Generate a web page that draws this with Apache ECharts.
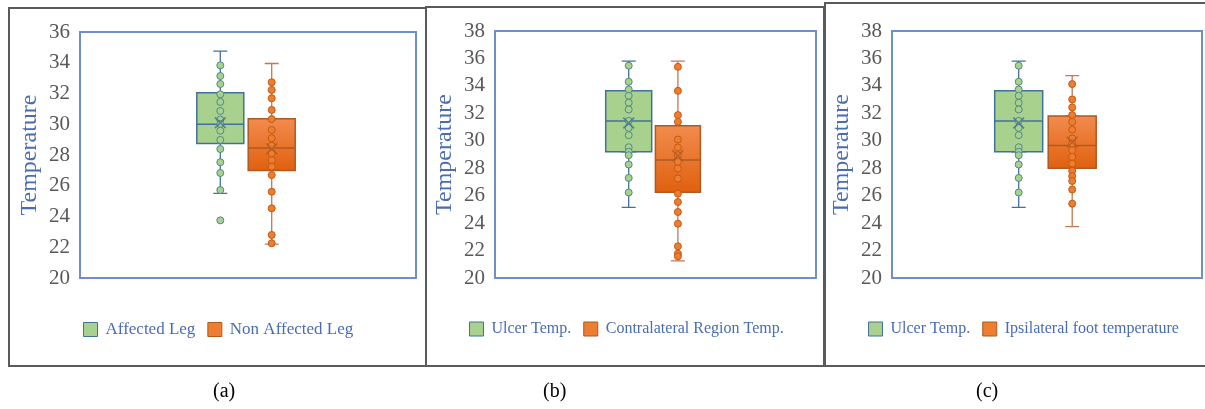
<!DOCTYPE html>
<html>
<head>
<meta charset="utf-8">
<script src="https://cdn.jsdelivr.net/npm/echarts@6/dist/echarts.min.js"></script>
<style>
html,body{margin:0;padding:0;background:#fff;}
#chart{width:1205px;height:409px;}
</style>
</head>
<body>
<div id="chart"></div>
<script>
// ---------- DATA ----------
const yTicksA = [20, 36];           // panel (a) y range
const yTicksBC = [20, 38];          // panels (b),(c) y range
const tickStep = 2;

const namesA = ['Affected Leg', 'Non Affected Leg'];
const namesB = ['Ulcer Temp.', 'Contralateral Region Temp.'];
const namesC = ['Ulcer Temp.', 'Ipsilateral foot temperature'];
const captions = ['(a)', '(b)', '(c)'];

// box values: [min whisker, Q1, median, Q3, max whisker]
const aGreenBox  = [25.5, 28.75, 30.0, 32.05, 34.75];
const aOrangeBox = [22.2, 27.0, 28.45, 30.35, 33.95];
const bGreenBox  = [25.15, 29.2, 31.45, 33.65, 35.8];
const bOrangeBox = [21.25, 26.25, 28.6, 31.1, 35.8];
const cGreenBox  = [25.15, 29.2, 31.45, 33.65, 35.8];
const cOrangeBox = [23.75, 28.0, 29.65, 31.8, 34.75];

// means (x markers)
const aMeans = [30.1, 28.4];
const bMeans = [31.3, 28.9];
const cMeans = [31.3, 29.9];

// inner points
const aGreenPts  = [33.83, 33.14, 32.62, 31.95, 31.45, 30.86, 30.3, 30.02, 29.58, 28.98, 28.39, 27.53, 26.83, 25.72, 23.75];
const aOrangePts = [32.73, 32.23, 31.69, 30.93, 30.34, 29.63, 29.09, 28.6, 28.11, 27.67, 27.24, 26.70, 25.61, 24.53, 22.80, 22.26];
const bGreenPts  = [35.47, 34.30, 33.74, 33.28, 32.77, 32.28, 31.45, 30.94, 30.41, 29.53, 29.2, 28.95, 28.27, 27.29, 26.23];
const bOrangePts = [35.39, 33.64, 31.87, 31.38, 30.09, 29.51, 28.95, 28.46, 27.98, 27.25, 26.15, 25.54, 24.81, 23.96, 22.31, 21.77, 21.58];
const cGreenPts  = [35.47, 34.30, 33.74, 33.28, 32.77, 32.28, 31.45, 30.94, 30.41, 29.53, 29.2, 28.95, 28.27, 27.29, 26.23];
const cOrangePts = [34.13, 33.01, 32.43, 31.87, 31.38, 30.82, 30.17, 29.80, 29.31, 28.82, 28.34, 27.80, 27.42, 27.07, 26.45, 25.42];

// ---------- STYLE ----------
const FONT = '"Liberation Serif", "Times New Roman", serif';
const green = {
  fill: '#a9d18e', border: '#41719c', whisker: '#41719c',
  dotFill: '#a9d18e', dotBorder: '#4f8a8b', mean: '#46708e',
  legFill: '#a9d18e', legBorder: '#41719c'
};
const orange = {
  fill: new echarts.graphic.LinearGradient(0, 0, 0, 1, [
    {offset: 0, color: '#f28c4e'}, {offset: 1, color: '#e0600e'}]),
  border: '#ae5a21', whisker: '#c07a55',
  dotFill: '#ed7d31', dotBorder: '#c55a11', mean: '#b05a25',
  legFill: '#ed7d31', legBorder: '#ae5a21'
};
const xPath = 'path://M0,1 L1,0 L5,4 L9,0 L10,1 L6,5 L10,9 L9,10 L5,6 L1,10 L0,9 L4,5 Z';

// panel geometry
const panels = [
  {main: {left: 80, top: 32, width: 336, height: 246}, range: yTicksA,
   boxes: [{c: 220.3, w: 47}, {c: 271.7, w: 47}], names: namesA,
   boxData: [aGreenBox, aOrangeBox], pts: [aGreenPts, aOrangePts], means: aMeans,
   legendLeft: 83, legendFont: 17, caption: 227},
  {main: {left: 495, top: 31, width: 321, height: 247}, range: yTicksBC,
   boxes: [{c: 628.7, w: 46}, {c: 677.9, w: 45}], names: namesB,
   boxData: [bGreenBox, bOrangeBox], pts: [bGreenPts, bOrangePts], means: bMeans,
   legendLeft: 469, legendFont: 16, caption: 557},
  {main: {left: 892, top: 31, width: 310, height: 247}, range: yTicksBC,
   boxes: [{c: 1018.7, w: 48}, {c: 1072.2, w: 48}], names: namesC,
   boxData: [cGreenBox, cOrangeBox], pts: [cGreenPts, cOrangePts], means: cMeans,
   legendLeft: 868, legendFont: 16, caption: 990}
];

const grid = [], xAxis = [], yAxis = [], series = [], legend = [], graphic = [];

// main grids
panels.forEach((p, i) => {
  grid.push(Object.assign({show: true, borderColor: '#6f8fca', borderWidth: 2, backgroundColor: '#fff', z: 0}, p.main));
  xAxis.push({type: 'category', gridIndex: i, data: ['x'], show: false});
  yAxis.push({
    type: 'value', gridIndex: i, min: p.range[0], max: p.range[1], interval: tickStep,
    name: 'Temperature', nameLocation: 'middle', nameRotate: 90, nameGap: 38,
    nameTextStyle: {fontFamily: FONT, fontSize: 24, color: '#4a6cb3'},
    axisLine: {show: false}, axisTick: {show: false}, splitLine: {show: false},
    axisLabel: {fontFamily: FONT, fontSize: 21, color: '#595959', margin: 10}
  });
});

// box grids
let gi = panels.length;      // grid index
let xi = panels.length;      // xAxis index
panels.forEach((p, pi) => {
  const H = p.main;
  [green, orange].forEach((col, si) => {
    const b = p.boxes[si];
    const gw = 51;
    grid.push({left: b.c - gw / 2, top: H.top, width: gw, height: H.height, show: false});
    // two independent category axes so boxes are not placed side by side
    const xWhisk = xi, xBody = xi + 1;
    xAxis.push({type: 'category', gridIndex: gi, data: [p.names[si]], show: false});
    xAxis.push({type: 'category', gridIndex: gi, data: [p.names[si]], show: false});
    xi += 2;
    yAxis.push({type: 'value', gridIndex: gi, min: p.range[0], max: p.range[1], interval: tickStep, show: false});
    const box = p.boxData[si];
    // whiskers (narrow caps)
    series.push({
      type: 'boxplot', name: '_w' + pi + si, xAxisIndex: xWhisk, yAxisIndex: gi,
      boxWidth: [14, 14], z: 2, silent: true,
      itemStyle: {color: 'rgba(0,0,0,0)', borderColor: col.whisker, borderWidth: 1.3},
      data: [box.slice()]
    });
    // box body
    series.push({
      type: 'boxplot', name: p.names[si], xAxisIndex: xBody, yAxisIndex: gi,
      boxWidth: [b.w, b.w], z: 3, silent: true,
      itemStyle: {color: col.fill, borderColor: col.border, borderWidth: 1.5},
      data: [[box[1], box[1], box[2], box[3], box[3]]]
    });
    // inner points
    series.push({
      type: 'scatter', name: '_p' + pi + si, xAxisIndex: xBody, yAxisIndex: gi, z: 4, silent: true,
      symbol: 'circle', symbolSize: 7,
      itemStyle: {color: col.dotFill, borderColor: col.dotBorder, borderWidth: 1, opacity: 1},
      data: p.pts[si].map(v => [0, v])
    });
    // mean marker
    series.push({
      type: 'scatter', name: '_m' + pi + si, xAxisIndex: xBody, yAxisIndex: gi, z: 5, silent: true,
      symbol: xPath, symbolSize: 12,
      itemStyle: {color: col.mean},
      data: [[0, p.means[si]]]
    });
    gi++;
  });
  const ts = {fontFamily: FONT, fontSize: p.legendFont, color: '#4a6cb3', padding: [0, 0, 0, 3]};
  legend.push({
    left: p.legendLeft, top: 321, width: 600, padding: 0, orient: 'horizontal',
    itemWidth: 14, itemHeight: 14, itemGap: 12,
    icon: 'rect', selectedMode: false,
    data: p.names.map((n, k) => {
      const c = k === 0 ? green : orange;
      return {name: n, icon: 'rect',
        itemStyle: {color: c.legFill, borderColor: c.legBorder, borderWidth: 1},
        textStyle: ts};
    }),
    textStyle: ts
  });
  graphic.push({
    type: 'text', left: p.caption - 14, top: 382,
    style: {text: captions[pi], font: '20px "Liberation Serif"', fill: '#000'}
  });
});

// panel frames
graphic.push(
  {type: 'rect', shape: {x: 9, y: 8, width: 417, height: 358}, style: {fill: 'none', stroke: '#5a5a5a', lineWidth: 2}, z: 10},
  {type: 'rect', shape: {x: 426, y: 7, width: 398, height: 359}, style: {fill: 'none', stroke: '#5a5a5a', lineWidth: 2}, z: 10},
  {type: 'rect', shape: {x: 825, y: 3, width: 385, height: 363}, style: {fill: 'none', stroke: '#5a5a5a', lineWidth: 2}, z: 10}
);

const chart = echarts.init(document.getElementById('chart'), null, {renderer: 'canvas'});
chart.setOption({
  animation: false,
  backgroundColor: '#fff',
  grid, xAxis, yAxis, series, legend, graphic
});
</script>
</body>
</html>
